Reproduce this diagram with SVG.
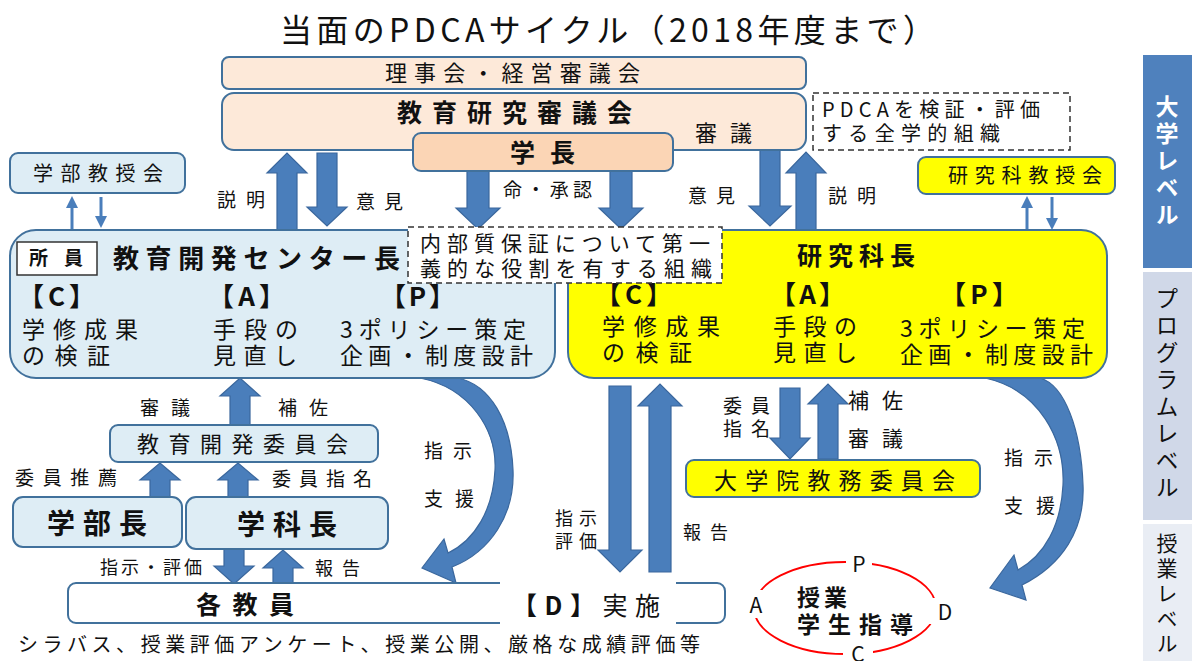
<svg xmlns="http://www.w3.org/2000/svg" width="1192" height="661" viewBox="0 0 1192 661">
<style>
text{font-family:"Noto Sans CJK JP","Noto Sans",sans-serif;fill:#111}
.b{font-weight:bold}
.box{stroke:#41719c;stroke-width:2}
.blue{fill:#deedf5}
.peach{fill:#fde9d9}
.yel{fill:#ffff00}
.dash{fill:#fff;stroke:#333;stroke-width:1.5;stroke-dasharray:6 4}
.ar{fill:#4a7ebb;stroke:#3a679d;stroke-width:1.2}
.thin{stroke:#4a7ebb;stroke-width:3;fill:none}
</style>
<defs>
<marker id="ah" markerWidth="4" markerHeight="4" refX="2" refY="2" orient="auto" markerUnits="strokeWidth"><path d="M0,0 L4,2 L0,4 Z" fill="#4a7ebb"/></marker>
</defs>
<rect width="1192" height="661" fill="#fff"/>
<text x="280" y="42" font-size="32" textLength="655" lengthAdjust="spacing">当面のPDCAサイクル（2018年度まで）</text>

<g id="sidebar">
<rect x="1143" y="55" width="49" height="213" fill="#4f81bd"/>
<rect x="1143" y="272" width="49" height="248" fill="#d0d8e8"/>
<rect x="1143" y="524" width="49" height="137" fill="#e9edf4"/>
<text class="b" x="1167" y="95" font-size="23" writing-mode="vertical-rl" letter-spacing="4" style="fill:#fff">大学レベル</text>
<text x="1167" y="287" font-size="23" writing-mode="vertical-rl" letter-spacing="4">プログラムレベル</text>
<text x="1167" y="533" font-size="21" writing-mode="vertical-rl" letter-spacing="4">授業レベル</text>
</g>

<g id="connectors">
<path class="ar" d="M277 230 L277 173 L267 173 L287 153 L307 173 L297 173 L297 230 Z"/>
<path class="ar" d="M317 153 L317 207 L307 207 L327 226 L347 207 L337 207 L337 153 Z"/>
<path class="ar" d="M467 171 L467 208 L456 208 L478 229 L500 208 L489 208 L489 171 Z"/>
<path class="ar" d="M610 171 L610 208 L599 208 L621 229 L643 208 L632 208 L632 171 Z"/>
<path class="ar" d="M760 150 L760 206 L749 206 L770 226 L791 206 L780 206 L780 150 Z"/>
<path class="ar" d="M796 232 L796 173 L786 173 L806 152 L826 173 L816 173 L816 232 Z"/>
<line class="thin" x1="72" y1="232" x2="72" y2="202" marker-end="url(#ah)"/>
<line class="thin" x1="101" y1="197" x2="101" y2="222" marker-end="url(#ah)"/>
<line class="thin" x1="1027" y1="230" x2="1027" y2="202" marker-end="url(#ah)"/>
<line class="thin" x1="1052" y1="197" x2="1052" y2="224" marker-end="url(#ah)"/>
<path class="ar" d="M118 290 L186 290 L186 283 L202 296 L186 309 L186 302 L118 302 Z"/>
<path class="ar" d="M293 290 L356 290 L356 283 L372 296 L356 309 L356 302 L293 302 Z"/>
<path class="ar" d="M680 288 L750 288 L750 281 L766 294 L750 307 L750 300 L680 300 Z"/>
<path class="ar" d="M855 288 L921 288 L921 281 L937 294 L921 307 L921 300 L855 300 Z"/>
<path class="ar" d="M230 426 L230 396 L220 396 L240 378 L260 396 L250 396 L250 426 Z"/>
<path class="ar" d="M150 498 L150 480 L140 480 L160 463 L180 480 L170 480 L170 498 Z"/>
<path class="ar" d="M228 498 L228 480 L218 480 L238 463 L258 480 L248 480 L248 498 Z"/>
<path class="ar" d="M224 549 L224 566 L214 566 L234 584 L254 566 L244 566 L244 549 Z"/>
<path class="ar" d="M273 584 L273 568 L263 568 L283 550 L303 568 L293 568 L293 584 Z"/>
<path class="ar" d="M609 386 L609 550 L598 550 L620 572 L642 550 L631 550 L631 386 Z"/>
<path class="ar" d="M649 572 L649 406 L638 406 L660 384 L682 406 L671 406 L671 572 Z"/>
<path class="ar" d="M780 388 L780 438 L770 438 L790 459 L810 438 L800 438 L800 388 Z"/>
<path class="ar" d="M818 459 L818 404 L808 404 L828 384 L848 404 L838 404 L838 459 Z"/>
<path class="ar" d="M420 378 C470 388 497 430 495 470 C493 510 475 540 448 553 L444 539 L422 568 L456 583 L452 567 C490 552 515 515 513 470 C511 420 490 385 458 378 Z"/>
<path class="ar" d="M985 378 C1040 390 1065 440 1063 485 C1061 525 1045 555 1018 570 L1014 555 L990 588 L1026 600 L1022 585 C1062 565 1085 530 1083 485 C1081 430 1065 385 1040 378 Z"/>
</g>

<g id="rijikai">
<rect class="box peach" x="222" y="57" width="584" height="32" rx="7"/>
<text x="385" y="81" font-size="22" textLength="255" lengthAdjust="spacing">理事会・経営審議会</text>
</g>
<g id="kyoikukenkyu">
<rect class="box peach" x="222" y="93" width="584" height="57" rx="12"/>
<text class="b" x="397" y="122" font-size="25" textLength="235" lengthAdjust="spacing">教育研究審議会</text>
<text x="695" y="141" font-size="22" textLength="57" lengthAdjust="spacing">審議</text>
</g>
<g id="gakucho">
<rect class="box" fill="#fbd5b5" x="413" y="133" width="260" height="38" rx="8"/>
<text class="b" x="510" y="162" font-size="25" textLength="65" lengthAdjust="spacing">学長</text>
</g>
<g id="pdca-note">
<rect class="dash" x="813" y="93" width="257" height="57"/>
<text x="822" y="117" font-size="20" textLength="218" lengthAdjust="spacing">PDCAを検証・評価</text>
<text x="822" y="141" font-size="20" textLength="178" lengthAdjust="spacing">する全学的組織</text>
</g>
<g id="gakubu-kyojukai">
<rect class="box blue" x="10" y="153" width="175" height="40" rx="8"/>
<text x="33" y="181" font-size="20" textLength="130" lengthAdjust="spacing">学部教授会</text>
</g>
<g id="kenkyuka-kyojukai">
<rect class="box yel" x="918" y="157" width="197" height="37" rx="8"/>
<text x="948" y="183" font-size="20" textLength="154" lengthAdjust="spacing">研究科教授会</text>
</g>

<g id="labels-top" font-size="19">
<text x="217" y="207" textLength="48" lengthAdjust="spacing">説明</text>
<text x="356" y="209" textLength="47" lengthAdjust="spacing">意見</text>
<text x="503" y="197" textLength="89" lengthAdjust="spacing">命・承認</text>
<text x="688" y="203" textLength="47" lengthAdjust="spacing">意見</text>
<text x="828" y="203" textLength="48" lengthAdjust="spacing">説明</text>
</g>

<g id="center">
<rect class="box blue" x="10" y="230" width="545" height="148" rx="26"/>
<rect x="17" y="242" width="80" height="33" fill="#fff" stroke="#333" stroke-width="1.5"/>
<text class="b" x="29" y="265" font-size="19" textLength="54" lengthAdjust="spacing">所員</text>
<text class="b" x="113" y="268" font-size="26" textLength="287" lengthAdjust="spacing">教育開発センター長</text>
<g class="b" font-size="26">
<text x="18" y="306" textLength="77" lengthAdjust="spacing">【C】</text>
<text x="208" y="306" textLength="77" lengthAdjust="spacing">【A】</text>
<text x="380" y="306" textLength="75" lengthAdjust="spacing">【P】</text>
</g>
<g font-size="23">
<text x="22" y="338" textLength="116" lengthAdjust="spacing">学修成果</text>
<text x="22" y="364" textLength="88" lengthAdjust="spacing">の検証</text>
<text x="213" y="338" textLength="85" lengthAdjust="spacing">手段の</text>
<text x="213" y="364" textLength="84" lengthAdjust="spacing">見直し</text>
<text x="340" y="338" textLength="186" lengthAdjust="spacing">3ポリシー策定</text>
<text x="340" y="364" textLength="193" lengthAdjust="spacing">企画・制度設計</text>
</g>
</g>

<g id="kenkyucho">
<rect class="box yel" x="568" y="230" width="539" height="148" rx="26"/>
<text class="b" x="797" y="265" font-size="25" textLength="118" lengthAdjust="spacing">研究科長</text>
<g class="b" font-size="26">
<text x="595" y="304" textLength="77" lengthAdjust="spacing">【C】</text>
<text x="770" y="304" textLength="75" lengthAdjust="spacing">【A】</text>
<text x="940" y="304" textLength="78" lengthAdjust="spacing">【P】</text>
</g>
<g font-size="23">
<text x="602" y="335" textLength="118" lengthAdjust="spacing">学修成果</text>
<text x="602" y="361" textLength="90" lengthAdjust="spacing">の検証</text>
<text x="773" y="335" textLength="84" lengthAdjust="spacing">手段の</text>
<text x="773" y="361" textLength="84" lengthAdjust="spacing">見直し</text>
<text x="900" y="337" textLength="185" lengthAdjust="spacing">3ポリシー策定</text>
<text x="900" y="363" textLength="193" lengthAdjust="spacing">企画・制度設計</text>
</g>
</g>

<g id="naibu-note">
<rect class="dash" x="408" y="227" width="314" height="56"/>
<text x="420" y="251" font-size="21" textLength="290" lengthAdjust="spacing">内部質保証について第一</text>
<text x="420" y="276" font-size="21" textLength="292" lengthAdjust="spacing">義的な役割を有する組織</text>
</g>

<g id="kyoiku-iinkai">
<rect class="box blue" x="110" y="425" width="268" height="37" rx="8"/>
<text x="137" y="452" font-size="22" textLength="211" lengthAdjust="spacing">教育開発委員会</text>
</g>
<g id="gakubucho">
<rect class="box blue" x="13" y="497" width="169" height="50" rx="10"/>
<text class="b" x="47" y="534" font-size="28" textLength="100" lengthAdjust="spacing">学部長</text>
</g>
<g id="gakkacho">
<rect class="box blue" x="186" y="497" width="202" height="52" rx="10"/>
<text class="b" x="237" y="535" font-size="28" textLength="100" lengthAdjust="spacing">学科長</text>
</g>
<g id="daigakuin-iinkai">
<rect class="box yel" x="686" y="460" width="294" height="37" rx="8"/>
<text x="714" y="489" font-size="23" textLength="241" lengthAdjust="spacing">大学院教務委員会</text>
</g>

<g id="labels-mid" font-size="19">
<text x="140" y="415" textLength="50" lengthAdjust="spacing">審議</text>
<text x="278" y="415" textLength="50" lengthAdjust="spacing">補佐</text>
<text x="15" y="485" textLength="102" lengthAdjust="spacing">委員推薦</text>
<text x="272" y="486" textLength="100" lengthAdjust="spacing">委員指名</text>
<text x="100" y="574" font-size="18" textLength="102" lengthAdjust="spacing">指示・評価</text>
<text x="315" y="575" font-size="18" textLength="45" lengthAdjust="spacing">報告</text>
<text x="424" y="458" textLength="48" lengthAdjust="spacing">指示</text>
<text x="424" y="506" textLength="50" lengthAdjust="spacing">支援</text>
<text x="555" y="525" font-size="18" textLength="42" lengthAdjust="spacing">指示</text>
<text x="555" y="548" font-size="18" textLength="42" lengthAdjust="spacing">評価</text>
<text x="683" y="539" font-size="18" textLength="45" lengthAdjust="spacing">報告</text>
<text x="723" y="413" textLength="47" lengthAdjust="spacing">委員</text>
<text x="723" y="436" textLength="47" lengthAdjust="spacing">指名</text>
<text x="848" y="408" font-size="21" textLength="55" lengthAdjust="spacing">補佐</text>
<text x="848" y="446" font-size="21" textLength="55" lengthAdjust="spacing">審議</text>
<text x="1004" y="465" textLength="49" lengthAdjust="spacing">指示</text>
<text x="1004" y="513" textLength="51" lengthAdjust="spacing">支援</text>
</g>

<g id="kakukyoin">
<rect class="box" fill="#fff" x="68" y="583" width="657" height="40" rx="8"/>
<rect x="500" y="580" width="176" height="46" fill="#fff"/>
<text class="b" x="196" y="614" font-size="25" textLength="98" lengthAdjust="spacing">各教員</text>
<text x="512" y="615" font-size="25" textLength="148" lengthAdjust="spacing"><tspan class="b">【D】</tspan>実施</text>
<text x="18" y="652" font-size="20" textLength="682" lengthAdjust="spacing">シラバス、授業評価アンケート、授業公開、厳格な成績評価等</text>
</g>

<g id="jugyo-cycle">
<ellipse cx="845" cy="608" rx="91" ry="46" fill="none" stroke="#ff0000" stroke-width="2"/>
<rect x="846" y="552" width="26" height="22" fill="#fff"/>
<rect x="843" y="643" width="30" height="18" fill="#fff"/>
<rect x="740" y="590" width="30" height="28" fill="#fff"/>
<rect x="928" y="598" width="32" height="26" fill="#fff"/>
<text x="859" y="572" font-size="21" text-anchor="middle">P</text>
<text x="858" y="662" font-size="21" text-anchor="middle">C</text>
<text x="756" y="613" font-size="21" text-anchor="middle">A</text>
<text x="945" y="620" font-size="21" text-anchor="middle">D</text>
<text class="b" x="797" y="606" font-size="23" textLength="50" lengthAdjust="spacing">授業</text>
<text class="b" x="797" y="633" font-size="23" textLength="116" lengthAdjust="spacing">学生指導</text>
</g>
</svg>
